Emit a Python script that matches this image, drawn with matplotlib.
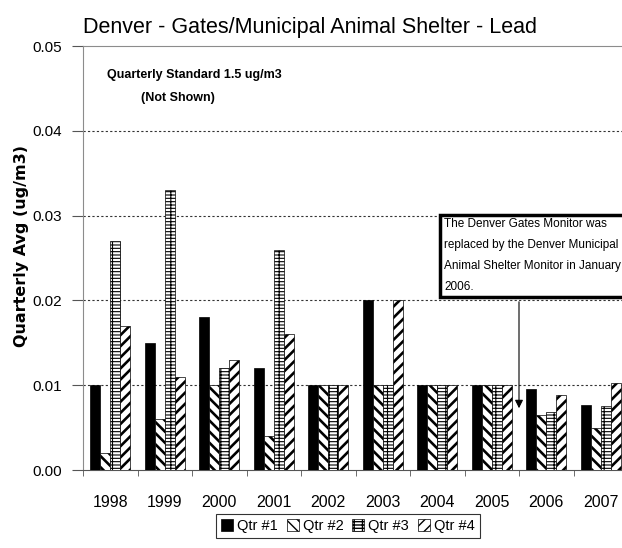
import numpy as np
import matplotlib
matplotlib.use("Agg")
import matplotlib.pyplot as plt
from matplotlib.patches import Rectangle, FancyArrowPatch

plt.rcParams["font.family"] = ["Liberation Sans", "DejaVu Sans"]

YEARS = ["1998", "1999", "2000", "2001", "2002", "2003", "2004", "2005", "2006", "2007"]
QTR1 = [0.010, 0.015, 0.018, 0.012, 0.010, 0.020, 0.010, 0.010, 0.0095, 0.0077]
QTR2 = [0.002, 0.006, 0.010, 0.004, 0.010, 0.010, 0.010, 0.010, 0.0065, 0.0049]
QTR3 = [0.027, 0.033, 0.012, 0.026, 0.010, 0.010, 0.010, 0.010, 0.0068, 0.0075]
QTR4 = [0.017, 0.011, 0.013, 0.016, 0.010, 0.020, 0.010, 0.010, 0.0088, 0.0103]
LABELS = ["Qtr #1", "Qtr #2", "Qtr #3", "Qtr #4"]
YTICKS = [0.0, 0.01, 0.02, 0.03, 0.04, 0.05]

W, H = 622, 548


def fx(px):
    return px / W


def fy(py):
    return 1 - py / H


fig = plt.figure(figsize=(6.22, 5.48), dpi=100)
ax = fig.add_axes([fx(83), fy(470), 545 / W, 424 / H])

x = np.arange(len(YEARS))
bw = 0.184
styles = [
    dict(color="black", hatch=None, hlw=1.0),
    dict(color="white", hatch="\\\\\\", hlw=1.9),
    dict(color="white", hatch="-----||", hlw=0.8),
    dict(color="white", hatch="///", hlw=1.9),
]
series = [QTR1, QTR2, QTR3, QTR4]
handles = []
for i, (vals, st) in enumerate(zip(series, styles)):
    with plt.rc_context({"hatch.linewidth": st["hlw"]}):
        bars = ax.bar(x + (i - 1.5) * bw, vals, bw, color=st["color"],
                      hatch=st["hatch"], edgecolor="black", linewidth=0.5,
                      zorder=3, label=LABELS[i])
    handles.append(bars)

ax.set_xlim(-0.5, len(YEARS) - 0.5)
ax.set_ylim(0, 0.05)
ax.set_yticks(YTICKS)
ax.set_yticklabels([f"{v:.2f}" for v in YTICKS], fontsize=11)
ax.set_xticks(x)
ax.set_xticklabels(YEARS, fontsize=11.5)
ax.set_xticks(np.arange(len(YEARS) + 1) - 0.5, minor=True)
ax.tick_params(axis="x", which="major", length=0, pad=18)
ax.tick_params(axis="x", which="minor", length=4.5, direction="out", color="#555555")
ax.tick_params(axis="y", length=8, pad=7, direction="out", color="#555555")

for v in YTICKS[1:-1]:
    ax.axhline(v, color="#333333", linestyle=(0, (2, 2)), linewidth=0.8, zorder=1)

for s in ["left", "top"]:
    ax.spines[s].set_color("#8c8c8c")
ax.spines["bottom"].set_color("#555555")
ax.spines["right"].set_visible(False)

fig.text(fx(310), fy(33), "Denver - Gates/Municipal Animal Shelter - Lead",
         ha="center", va="baseline", fontsize=15.5)
fig.text(fx(22), fy(246), "Quarterly Avg (ug/m3)", rotation=90, ha="center",
         va="center", fontsize=11.5, fontweight="bold", family="DejaVu Sans")
fig.text(fx(107), fy(78), "Quarterly Standard 1.5 ug/m3", ha="left",
         va="baseline", fontsize=9, fontweight="bold")
fig.text(fx(141), fy(101), "(Not Shown)", ha="left", va="baseline",
         fontsize=9, fontweight="bold")

box = Rectangle((fx(440), fy(297)), 0.4, 82 / H, transform=fig.transFigure,
                facecolor="white", edgecolor="black", linewidth=2.5, clip_on=False)
fig.add_artist(box)
fig.text(fx(444), fy(218),
         "The Denver Gates Monitor was\nreplaced by the Denver Municipal\n"
         "Animal Shelter Monitor in January\n2006.",
         ha="left", va="top", fontsize=8.5, linespacing=2.0)
arrow = FancyArrowPatch((fx(519), fy(299)), (fx(519), fy(411)),
                        transform=fig.transFigure, arrowstyle="-|>",
                        mutation_scale=12, color="black", linewidth=0.8)
fig.add_artist(arrow)

leg = fig.legend(handles, LABELS, loc="center", bbox_to_anchor=(fx(348), fy(526)),
                 ncol=4, fontsize=10.5, frameon=True, fancybox=False,
                 edgecolor="black", handlelength=0.8, handleheight=0.8,
                 handletextpad=0.3, columnspacing=0.6, borderpad=0.35)
leg.get_frame().set_linewidth(0.8)

fig.savefig("out.png", dpi=100)
